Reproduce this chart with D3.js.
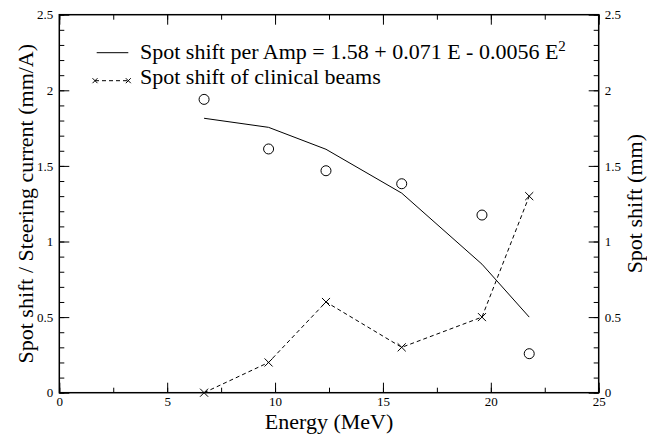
<!DOCTYPE html>
<html><head><meta charset="utf-8">
<script src="https://cdn.jsdelivr.net/npm/d3@7"></script>
<style>body{margin:0;background:#fff}svg{display:block}</style>
</head><body><svg id="c" width="647" height="437"></svg>
<script>
const energy = [6.71, 9.70, 12.36, 15.87, 19.59, 21.78];
const measuredPerAmp = [1.94, 1.612, 1.468, 1.382, 1.175, 0.258];
const fitPerAmp = [1.815, 1.755, 1.61, 1.32, 0.85, 0.50];
const clinicalShift = [0.0, 0.2, 0.6, 0.3, 0.5, 1.3];
const xTicks = [0, 5, 10, 15, 20, 25];
const yTicks = [0, 0.5, 1, 1.5, 2, 2.5];

const FONT = "Liberation Serif";
const svg = d3.select("#c");
const L = 59.3, R = 598.7, T = 14.7, B = 392.7;
const x = d3.scaleLinear().domain([0, 25]).range([L, R]);
const y = d3.scaleLinear().domain([0, 2.5]).range([B, T]);
const y2 = d3.scaleLinear().domain([0, 2.5]).range([B, T]);

const xMinor = d3.range(0, 25.01, 2.5);
const yMinor = d3.range(0, 2.501, 0.1).map(v => +v.toFixed(2));

function styleAxis(g){
  g.attr("font-family", FONT).attr("font-size", 13);
  g.select(".domain").remove();
  g.selectAll(".tick line").attr("stroke","#000").attr("stroke-width",1);
  g.selectAll("text").attr("fill","#000").attr("font-family", FONT).attr("font-size", 13);
}

// bottom axis
svg.append("g").attr("transform",`translate(0,${B})`)
  .call(d3.axisBottom(x).tickValues(xMinor).tickSize(-5).tickFormat(""))
  .call(styleAxis);
svg.append("g").attr("transform",`translate(0,${B})`)
  .call(d3.axisBottom(x).tickValues(xTicks).tickSize(-10).tickPadding(4).tickFormat(d3.format("d")))
  .call(styleAxis);
// top axis
svg.append("g").attr("transform",`translate(0,${T})`)
  .call(d3.axisTop(x).tickValues(xMinor).tickSize(-5).tickFormat("")).call(styleAxis);
svg.append("g").attr("transform",`translate(0,${T})`)
  .call(d3.axisTop(x).tickValues(xTicks).tickSize(-10).tickFormat("")).call(styleAxis);
// left axis
svg.append("g").attr("transform",`translate(${L},0)`)
  .call(d3.axisLeft(y).tickValues(yMinor).tickSize(-5).tickFormat("")).call(styleAxis);
svg.append("g").attr("transform",`translate(${L},0)`)
  .call(d3.axisLeft(y).tickValues(yTicks).tickSize(-10).tickPadding(6).tickFormat(d => d3.format("")(d)))
  .call(styleAxis);
// right axis
svg.append("g").attr("transform",`translate(${R},0)`)
  .call(d3.axisRight(y2).tickValues(yMinor).tickSize(-5).tickFormat("")).call(styleAxis);
svg.append("g").attr("transform",`translate(${R},0)`)
  .call(d3.axisRight(y2).tickValues(yTicks).tickSize(-10).tickPadding(6).tickFormat(d => d3.format("")(d)))
  .call(styleAxis);

// frame
svg.append("rect").attr("x",L).attr("y",T).attr("width",R-L).attr("height",B-T)
  .attr("fill","none").attr("stroke","#000").attr("stroke-width",1.5);

// fit line
svg.append("path").datum(energy.map((e,i)=>[e,fitPerAmp[i]]))
  .attr("d", d3.line().x(d=>x(d[0])).y(d=>y(d[1])))
  .attr("fill","none").attr("stroke","#000").attr("stroke-width",1);
// circles
svg.selectAll("circle.m").data(energy.map((e,i)=>[e,measuredPerAmp[i]])).join("circle")
  .attr("cx",d=>x(d[0])).attr("cy",d=>y(d[1])).attr("r",5)
  .attr("fill","none").attr("stroke","#000").attr("stroke-width",1);
// clinical dashed line
svg.append("path").datum(energy.map((e,i)=>[e,clinicalShift[i]]))
  .attr("d", d3.line().x(d=>x(d[0])).y(d=>y2(d[1])))
  .attr("fill","none").attr("stroke","#000").attr("stroke-width",1).attr("stroke-dasharray","4,3");
const cross = d3.symbol().type(d3.symbolX).size(44);
svg.selectAll("path.x").data(energy.map((e,i)=>[e,clinicalShift[i]])).join("path")
  .attr("class","x").attr("d",cross)
  .attr("transform",d=>`translate(${x(d[0])},${y2(d[1])})`)
  .attr("fill","none").attr("stroke","#000").attr("stroke-width",1);

// legend
svg.append("line").attr("x1",96.7).attr("x2",128.3).attr("y1",52.7).attr("y2",52.7).attr("stroke","#000");
const t1 = svg.append("text").attr("x",140).attr("y",59).attr("font-size",22).attr("font-family",FONT).attr("fill","#000");
t1.append("tspan").text("Spot shift per Amp = 1.58 + 0.071 E - 0.0056 E");
t1.append("tspan").attr("dy",-8).attr("font-size",15).text("2");
svg.append("line").attr("x1",95).attr("x2",128.3).attr("y1",80.7).attr("y2",80.7)
  .attr("stroke","#000").attr("stroke-dasharray","4,3");
const smallCross = d3.symbol().type(d3.symbolX).size(18);
[95,128.3].forEach(px=>svg.append("path").attr("d",smallCross).attr("transform",`translate(${px},80.7)`)
  .attr("fill","none").attr("stroke","#000"));
svg.append("text").attr("x",140).attr("y",84).attr("font-size",22).attr("font-family",FONT).attr("fill","#000")
  .text("Spot shift of clinical beams");

// axis titles
svg.append("text").attr("x",(L+R)/2).attr("y",429).attr("text-anchor","middle").attr("font-size",22).attr("font-family",FONT)
  .text("Energy (MeV)");
svg.append("text").attr("transform",`translate(33,${(T+B)/2}) rotate(-90)`).attr("text-anchor","middle").attr("font-size",22).attr("font-family",FONT)
  .text("Spot shift / Steering current (mm/A)");
svg.append("text").attr("transform",`translate(642,${(T+B)/2}) rotate(-90)`).attr("text-anchor","middle").attr("font-size",22).attr("font-family",FONT)
  .text("Spot shift (mm)");
</script></body></html>
